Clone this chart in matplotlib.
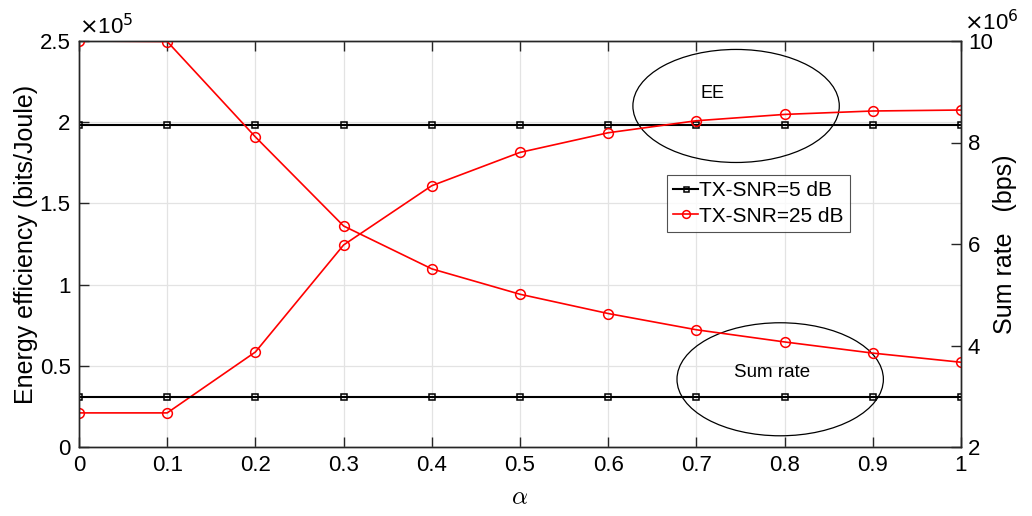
import numpy as np
import matplotlib
matplotlib.use('Agg')
import matplotlib.pyplot as plt
from matplotlib.patches import Ellipse
from matplotlib.ticker import FuncFormatter, MultipleLocator

plt.rcParams['font.family'] = ['Liberation Sans', 'DejaVu Sans']
plt.rcParams['mathtext.fontset'] = 'custom'
plt.rcParams['mathtext.rm'] = 'Liberation Sans'
plt.rcParams['mathtext.it'] = 'Liberation Sans:italic'

# Datos: eficiencia energética (bits/Joule) y tasa suma (bps) vs alpha
alpha = [0, 0.1, 0.2, 0.3, 0.4, 0.5, 0.6, 0.7, 0.8, 0.9, 1.0]
ee_5db = [1.985e5] * 11
ee_25db = [0.21e5, 0.21e5, 0.585e5, 1.244e5, 1.609e5, 1.814e5,
           1.935e5, 2.009e5, 2.048e5, 2.069e5, 2.075e5]
sr_5db = [2.99e6] * 11
sr_25db = [10.0e6, 9.99e6, 8.11e6, 6.355e6, 5.51e6, 5.01e6,
           4.63e6, 4.31e6, 4.07e6, 3.85e6, 3.67e6]

fig = plt.figure(figsize=(10.32, 5.16), dpi=100)
ax = fig.add_axes([79 / 1032, 1 - 447 / 516, 882 / 1032, 406 / 516])
ax2 = ax.twinx()

gris = '#262626'
for a in (ax, ax2):
    for s in a.spines.values():
        s.set_color(gris)
        s.set_linewidth(1.0)

# Eje izquierdo: EE
ax.plot(alpha, ee_5db, color='black', lw=1.5, marker='s', ms=4.5, mfc='none', mew=1.1,
        label='TX-SNR=5 dB')
ax.plot(alpha, ee_25db, color='red', lw=1.2, marker='o', ms=7, mfc='none', mew=1.1,
        label='TX-SNR=25 dB')
ax.set_xlim(0, 1)
ax.set_ylim(0, 2.5e5)
ax.xaxis.set_major_locator(MultipleLocator(0.1))
ax.yaxis.set_major_locator(MultipleLocator(0.5e5))
ax.xaxis.set_major_formatter(FuncFormatter(lambda v, p: '%g' % round(v, 2)))
ax.yaxis.set_major_formatter(FuncFormatter(lambda v, p: '%g' % round(v / 1e5, 2)))
ax.grid(True, color='#e3e3e3', lw=0.9)
ax.set_axisbelow(True)
ax.tick_params(direction='in', length=7, width=1, colors=gris, labelsize=16,
               top=True, labelcolor='black', pad=6)
ax.set_ylabel('Energy efficiency (bits/Joule)', fontsize=18, labelpad=1)
ax.set_xlabel(r'$\alpha$', fontsize=18, labelpad=6, math_fontfamily='cm')
ax.text(0.0, 1.005, r'$\times$10$^5$', transform=ax.transAxes, fontsize=16,
        ha='left', va='bottom', math_fontfamily='dejavusans')

# Eje derecho: tasa suma
ax2.plot(alpha, sr_5db, color='black', lw=1.5, marker='s', ms=4.5, mfc='none', mew=1.1)
ax2.plot(alpha, sr_25db, color='red', lw=1.2, marker='o', ms=7, mfc='none', mew=1.1)
ax2.set_ylim(2e6, 10e6)
ax2.yaxis.set_major_locator(MultipleLocator(2e6))
ax2.yaxis.set_major_formatter(FuncFormatter(lambda v, p: '%g' % round(v / 1e6, 2)))
ax2.tick_params(direction='in', length=7, width=1, colors=gris, labelsize=16,
                labelcolor='black', pad=5)
ax2.set_ylabel('Sum rate   (bps)', fontsize=18, labelpad=0)
ax2.text(1.003, 1.015, r'$\times$10$^6$', transform=ax2.transAxes, fontsize=16,
         ha='left', va='bottom', math_fontfamily='dejavusans')

# Elipses de anotación
ax.add_patch(Ellipse((0.745, 2.10e5), 0.234, 0.696e5, fill=False, ec='black', lw=0.9))
ax.add_patch(Ellipse((0.795, 0.417e5), 0.234, 0.696e5, fill=False, ec='black', lw=0.9))
ax.text(0.718, 2.175e5, 'EE', fontsize=13, ha='center', va='center')
ax.text(0.786, 0.46e5, 'Sum rate', fontsize=13.5, ha='center', va='center')

leg = ax.legend(loc='upper left', bbox_to_anchor=((667 - 79) / 882, (447 - 175) / 406),
                fontsize=15, frameon=True, fancybox=False, edgecolor=gris,
                handlelength=1.2, handletextpad=0.05, borderpad=0.3, labelspacing=0.3,
                borderaxespad=0, markerscale=0.8)
leg.get_frame().set_linewidth(0.8)

plt.savefig('out.png', dpi=100)
